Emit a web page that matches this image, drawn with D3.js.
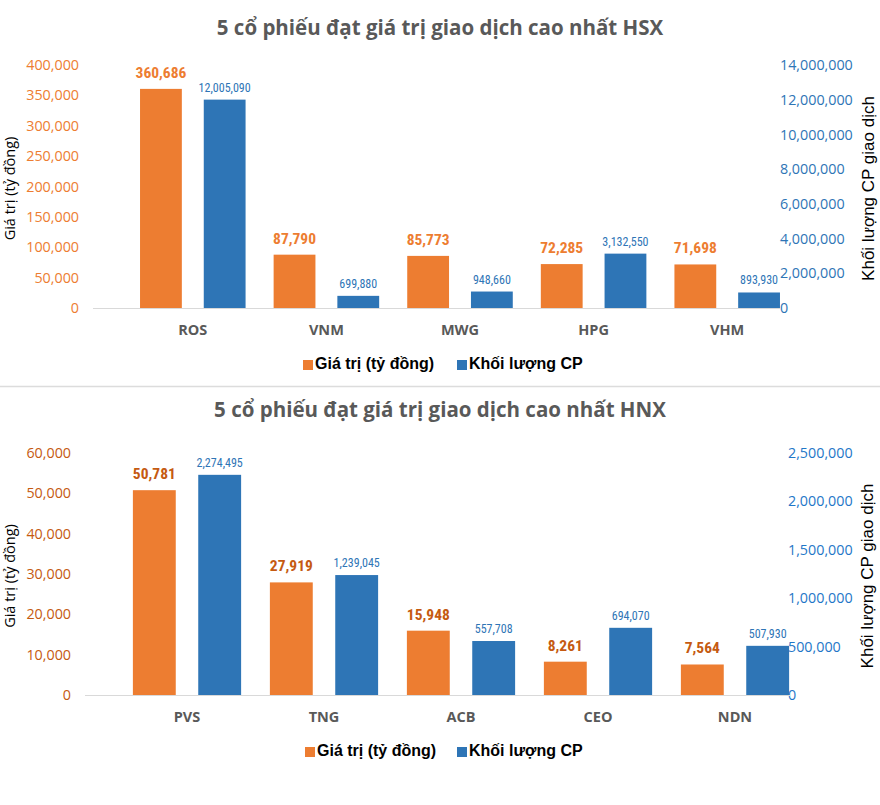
<!DOCTYPE html>
<html><head><meta charset="utf-8">
<script src="https://cdn.jsdelivr.net/npm/d3@7/dist/d3.min.js"></script>
<style>body{margin:0;background:#fff}svg{display:block}</style>
</head><body>
<svg id="c" width="880" height="805"></svg>
<script>
// ---- data ----
const hsxCategories = ["ROS", "VNM", "MWG", "HPG", "VHM"];
const hsxValue = [360686, 87790, 85773, 72285, 71698];
const hsxVolume = [12005090, 699880, 948660, 3132550, 893930];
const hsxLeftTicks = [0, 50000, 100000, 150000, 200000, 250000, 300000, 350000, 400000];
const hsxRightTicks = [0, 2000000, 4000000, 6000000, 8000000, 10000000, 12000000, 14000000];

const hnxCategories = ["PVS", "TNG", "ACB", "CEO", "NDN"];
const hnxValue = [50781, 27919, 15948, 8261, 7564];
const hnxVolume = [2274495, 1239045, 557708, 694070, 507930];
const hnxLeftTicks = [0, 10000, 20000, 30000, 40000, 50000, 60000];
const hnxRightTicks = [0, 500000, 1000000, 1500000, 2000000, 2500000];

const seriesNames = ["Giá trị (tỷ đồng)", "Khối lượng CP"];
const titles = ["5 cổ phiếu đạt giá trị giao dịch cao nhất HSX", "5 cổ phiếu đạt giá trị giao dịch cao nhất HNX"];
const leftTitle = "Giá trị (tỷ đồng)";
const rightTitle = "Khối lượng CP giao dịch";

const svg = d3.select("#c");
const fmt = d3.format(",");
const NARROW = "'Liberation Sans Narrow','Arial Narrow','Roboto Condensed',Roboto,sans-serif";
const CAL = "'Open Sans','Noto Sans',sans-serif";
const ARIAL = "'Liberation Sans',Arial,sans-serif";

function drawChart(cfg) {
  const g = svg.append("g");
  const y0 = cfg.yBase, yTop = cfg.yTop;
  g.append("text").attr("x", 440).attr("y", cfg.titleY).attr("text-anchor", "middle")
    .attr("font-family", CAL).attr("font-weight", 700).attr("font-size", 20.5)
    .attr("fill", "#595959").attr("dominant-baseline", "middle").text(cfg.title);

  const x0 = d3.scaleBand().domain(cfg.categories).range(cfg.xRange).paddingInner(0.21).paddingOuter(0.105);
  const x1 = d3.scaleBand().domain([0, 1]).range([0, x0.bandwidth()]).paddingInner(0.344);
  const yL = d3.scaleLinear().domain([0, d3.max(cfg.leftTicks)]).range([y0, yTop]);
  const yR = d3.scaleLinear().domain([0, d3.max(cfg.rightTicks)]).range([y0, yTop]);

  const la = g.append("g").attr("transform", `translate(${cfg.leftX},0)`)
    .call(d3.axisLeft(yL).tickValues(cfg.leftTicks).tickFormat(fmt).tickSize(0).tickPadding(0));
  la.select(".domain").remove();
  la.selectAll("text").attr("font-family", CAL).attr("font-size", 14.3).attr("fill", cfg.leftColor);

  const ra = g.append("g").attr("transform", `translate(${cfg.rightX},0)`)
    .call(d3.axisRight(yR).tickValues(cfg.rightTicks).tickFormat(fmt).tickSize(0).tickPadding(0));
  ra.select(".domain").remove();
  ra.selectAll("text").attr("font-family", CAL).attr("font-size", 14.3).attr("fill", cfg.rightColor);

  g.append("line").attr("x1", cfg.baseX[0]).attr("x2", cfg.baseX[1]).attr("y1", y0 + 0.5).attr("y2", y0 + 0.5)
    .attr("stroke", "#d9d9d9").attr("stroke-width", 1);

  g.append("text").attr("transform", `translate(15,${(y0 + yTop) / 2 + 2}) rotate(-90)`)
    .attr("text-anchor", "middle").attr("font-family", CAL).attr("font-size", 14.5).attr("fill", "#000")
    .text(leftTitle);
  g.append("text").attr("transform", `translate(${cfg.rTitleX},${(y0 + yTop) / 2 + 2}) rotate(-90)`)
    .attr("text-anchor", "middle").attr("font-family", ARIAL).attr("font-size", 17).attr("fill", "#000")
    .text(rightTitle);

  const groups = g.selectAll(".grp").data(cfg.categories).join("g")
    .attr("transform", d => `translate(${x0(d)},0)`);
  groups.append("rect").attr("x", x1(0)).attr("width", x1.bandwidth())
    .attr("y", (d, i) => yL(cfg.value[i])).attr("height", (d, i) => y0 - yL(cfg.value[i]))
    .attr("fill", "#ED7D31");
  groups.append("rect").attr("x", x1(1)).attr("width", x1.bandwidth())
    .attr("y", (d, i) => yR(cfg.volume[i])).attr("height", (d, i) => y0 - yR(cfg.volume[i]))
    .attr("fill", "#2E75B6");
  groups.append("text").attr("x", x1(0) + x1.bandwidth() / 2).attr("y", (d, i) => yL(cfg.value[i]) - 11)
    .attr("text-anchor", "middle").attr("font-family", NARROW).attr("font-weight", 700).attr("font-size", 15.5)
    .attr("fill", cfg.valLabelColor).text((d, i) => fmt(cfg.value[i]));
  groups.append("text").attr("x", x1(1) + x1.bandwidth() / 2).attr("y", (d, i) => yR(cfg.volume[i]) - 8)
    .attr("text-anchor", "middle").attr("font-family", NARROW).attr("font-size", 12)
    .attr("fill", "#2E75B6").text((d, i) => fmt(cfg.volume[i]));
  groups.append("text").attr("x", x0.bandwidth() / 2).attr("y", cfg.catY).attr("text-anchor", "middle")
    .attr("dominant-baseline", "middle").attr("font-family", CAL).attr("font-weight", 700).attr("font-size", 14.5)
    .attr("fill", "#595959").text(d => d);

  const leg = g.append("g").attr("transform", `translate(0,${cfg.legY})`);
  const items = [{x: cfg.legX[0], c: "#ED7D31", t: seriesNames[0]}, {x: cfg.legX[1], c: "#2E75B6", t: seriesNames[1]}];
  items.forEach(it => {
    leg.append("rect").attr("x", it.x).attr("y", -5).attr("width", 10).attr("height", 10).attr("fill", it.c);
    leg.append("text").attr("x", it.x + 12).attr("y", 0).attr("dominant-baseline", "middle")
      .attr("font-family", ARIAL).attr("font-weight", 700).attr("font-size", 16).attr("fill", "#000").text(it.t);
  });
}

drawChart({
  title: titles[0], titleY: 30, categories: hsxCategories, value: hsxValue, volume: hsxVolume,
  leftTicks: hsxLeftTicks, rightTicks: hsxRightTicks, yBase: 308, yTop: 65,
  xRange: [126, 794], leftX: 79, rightX: 780, baseX: [93, 780], rTitleX: 874,
  leftColor: "#ED7D31", rightColor: "#2E75B6", valLabelColor: "#ED7D31",
  catY: 331, legY: 365, legX: [303, 457]
});

svg.append("line").attr("x1", 0).attr("x2", 880).attr("y1", 386.5).attr("y2", 386.5)
  .attr("stroke", "#dcdcdc").attr("stroke-width", 1.5);

drawChart({
  title: titles[1], titleY: 412, categories: hnxCategories, value: hnxValue, volume: hnxVolume,
  leftTicks: hnxLeftTicks, rightTicks: hnxRightTicks, yBase: 695, yTop: 453,
  xRange: [118.5, 803.5], leftX: 71, rightX: 788, baseX: [85, 790], rTitleX: 873,
  leftColor: "#C55A11", rightColor: "#1F77C8", valLabelColor: "#C55A11",
  catY: 718, legY: 752, legX: [305, 457]
});
</script>
</body></html>
